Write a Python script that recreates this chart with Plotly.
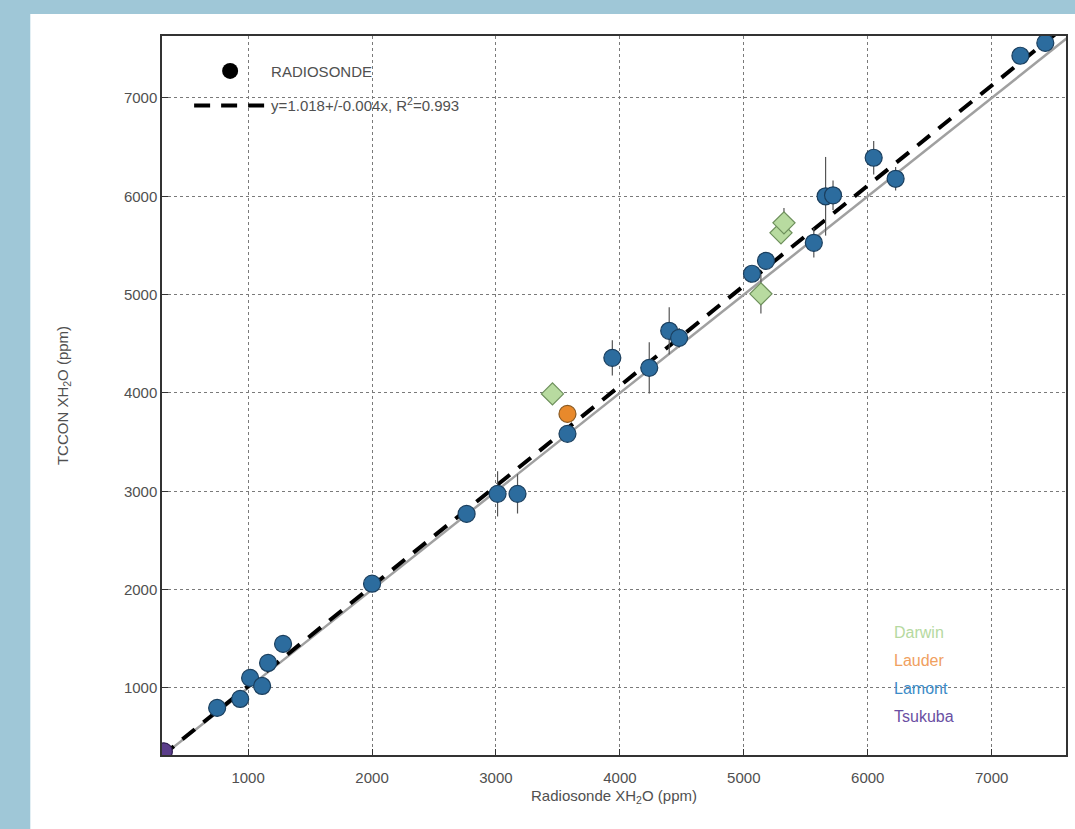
import plotly.graph_objects as go

# ---- data ----
lamont_x = [750, 936, 1016, 1113, 1161, 1282, 2000, 2763, 3013, 3174, 3577, 3939, 4237, 4398, 4478,
            5066, 5179, 5565, 5660, 5720, 6048, 6225, 7232, 7433]
lamont_y = [797, 888, 1102, 1020, 1254, 1448, 2060, 2770, 2974, 2974, 3584, 4357, 4255, 4632, 4560,
            5212, 5344, 5527, 6000, 6010, 6392, 6178, 7429, 7560]
lamont_err = [40, 40, 50, 50, 50, 50, 60, 40, 230, 200, 60, 180, 260, 240, 100,
              80, 80, 150, 400, 150, 170, 120, 80, 60]

darwin_x = [3456, 5138, 5300, 5324]
darwin_y = [3990, 5008, 5628, 5730]
darwin_err = [60, 200, 100, 150]

lauder_x = [3577]
lauder_y = [3787]
lauder_err = [60]

tsukuba_x = [320]
tsukuba_y = [355]
tsukuba_err = [30]

fit_slope = 1.018
line_x = [300, 7650]

x_ticks = [1000, 2000, 3000, 4000, 5000, 6000, 7000]
y_ticks = [1000, 2000, 3000, 4000, 5000, 6000, 7000]

site_names = ["Darwin", "Lauder", "Lamont", "Tsukuba"]
site_text_colors = ["#b5d9a0", "#f0a060", "#3c8cc8", "#6a4fa3"]

FONT = "Liberation Sans, Arial, sans-serif"

fig = go.Figure()

# 1:1 line
fig.add_trace(go.Scatter(x=line_x, y=line_x, mode="lines",
                         line=dict(color="#a0a0a0", width=2.5), showlegend=False, hoverinfo="skip"))
# fit line
fig.add_trace(go.Scatter(x=line_x, y=[fit_slope * v for v in line_x], mode="lines",
                         line=dict(color="black", width=4, dash="16px,11px"),
                         name="y=1.018+/-0.004x, R<sup>2</sup>=0.993", legendgroup="fit", legendrank=2,
                         showlegend=True, hoverinfo="skip"))

def site(xs, ys, errs, fill, edge, symbol):
    fig.add_trace(go.Scatter(
        x=xs, y=ys, mode="markers",
        error_y=dict(type="data", array=errs, color="#555555", thickness=1.2, width=0),
        marker=dict(size=17, color=fill, symbol=symbol, line=dict(color=edge, width=1.2)),
        showlegend=False))

site(lamont_x, lamont_y, lamont_err, "#2c6c9e", "#1b3f5e", "circle")
site(darwin_x, darwin_y, darwin_err, "#b8dba0", "#6d8f5b", "diamond")
site(lauder_x, lauder_y, lauder_err, "#e8892b", "#8a5a22", "circle")
site(tsukuba_x, tsukuba_y, tsukuba_err, "#5a3d8a", "#2f1f50", "circle")

# legend-only marker entry
fig.add_trace(go.Scatter(x=[None], y=[None], mode="markers", legendgroup="rs", legendrank=1,
                         marker=dict(size=16, color="black"), name="RADIOSONDE"))

for i, (nm, col) in enumerate(zip(site_names, site_text_colors)):
    fig.add_annotation(x=0.808, y=0.170 - i * 0.039, xref="paper", yref="paper",
                       text=nm, showarrow=False, xanchor="left", yanchor="middle",
                       font=dict(size=16, color=col, family=FONT))

# white panel
fig.add_shape(type="rect", xref="paper", yref="paper", x0=-0.1457, x1=1.02, y0=-0.11, y1=1.0306,
              fillcolor="white", line=dict(width=0), layer="below")

axis_common = dict(
    showgrid=True, gridcolor="#7a7a7a", griddash="dot", gridwidth=1,
    showline=True, linecolor="#333333", linewidth=1.5, mirror=True,
    ticks="inside", ticklen=6, tickcolor="#333333",
    tickfont=dict(size=15, color="#505050", family=FONT),
    zeroline=False,
)

fig.update_xaxes(range=[305, 7600], tickvals=x_ticks, ticklabelstandoff=8,
                 title=dict(text="Radiosonde XH<sub>2</sub>O (ppm)", standoff=6,
                            font=dict(size=15, color="#505050", family=FONT)),
                 **axis_common)
fig.update_yaxes(range=[318, 7630], tickvals=y_ticks,
                 title=dict(text="TCCON XH<sub>2</sub>O (ppm)", standoff=52,
                            font=dict(size=15, color="#505050", family=FONT)),
                 **axis_common)

fig.update_layout(
    width=1075, height=829,
    margin=dict(l=162, r=7, t=36, b=74),
    paper_bgcolor="#9fc7d7", plot_bgcolor="white",
    legend=dict(x=0.03, y=0.974, xanchor="left", yanchor="top", bgcolor="rgba(0,0,0,0)",
                itemwidth=72, traceorder="grouped", tracegroupgap=12,
                font=dict(size=15, color="#505050", family=FONT)),
    font=dict(family=FONT),
)

fig.write_html("out.html", config={"displayModeBar": False},
               post_script="document.body.style.margin='0';document.body.style.background='#9fc7d7';")
